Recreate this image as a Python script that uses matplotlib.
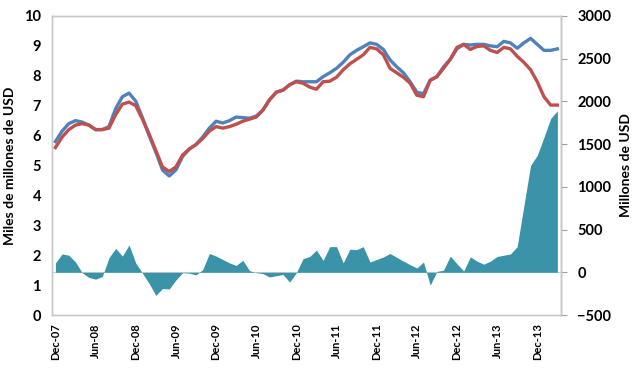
import numpy as np
import matplotlib
matplotlib.use("Agg")
import matplotlib.pyplot as plt

plt.rcParams['font.family'] = ['Lato', 'DejaVu Sans']

# monthly data, Dec-07 .. Mar-14
months = ['Dec', 'Jan', 'Feb', 'Mar', 'Apr', 'May', 'Jun', 'Jul', 'Aug', 'Sep', 'Oct', 'Nov']
labels = []
for k in range(76):
    m = months[k % 12]
    yr = 7 + (k + 11) // 12
    labels.append('%s-%02d' % (m, yr))

blue = [5.8, 6.15, 6.4, 6.5, 6.45, 6.35, 6.2, 6.2, 6.3, 6.9, 7.3, 7.42, 7.15, 6.6, 6.0, 5.45,
        4.85, 4.65, 4.85, 5.3, 5.55, 5.7, 5.95, 6.25, 6.48, 6.42, 6.5, 6.62, 6.6, 6.58, 6.65, 6.85,
        7.2, 7.45, 7.52, 7.7, 7.82, 7.8, 7.8, 7.8, 7.97, 8.1, 8.25, 8.45, 8.7, 8.85, 8.97, 9.1,
        9.05, 8.88, 8.53, 8.3, 8.1, 7.8, 7.45, 7.4, 7.85, 7.97, 8.3, 8.55, 8.9, 9.05, 9.03, 9.05,
        9.05, 9.0, 8.97, 9.15, 9.1, 8.92, 9.1, 9.25, 9.05, 8.85, 8.85, 8.9]
red = [5.6, 5.95, 6.2, 6.35, 6.4, 6.35, 6.2, 6.2, 6.25, 6.7, 7.05, 7.12, 7.0, 6.55, 6.05, 5.5,
       4.95, 4.8, 4.95, 5.35, 5.55, 5.7, 5.9, 6.15, 6.3, 6.25, 6.3, 6.38, 6.48, 6.55, 6.62, 6.85,
       7.2, 7.45, 7.52, 7.7, 7.8, 7.75, 7.62, 7.55, 7.8, 7.82, 7.95, 8.2, 8.4, 8.55, 8.7, 8.95,
       8.9, 8.7, 8.25, 8.1, 7.95, 7.75, 7.35, 7.3, 7.85, 7.97, 8.25, 8.55, 8.95, 9.05, 8.88, 8.98,
       9.0, 8.85, 8.78, 8.95, 8.9, 8.65, 8.45, 8.2, 7.8, 7.3, 7.02, 7.02]
area = [110, 215, 200, 120, -5, -60, -80, -50, 170, 280, 190, 320, 110, -10, -130, -270,
        -190, -195, -90, -5, -10, -30, 30, 220, 190, 150, 110, 80, 140, 20, -5, -15,
        -55, -40, -25, -115, -5, 160, 185, 260, 140, 300, 300, 110, 270, 265, 300, 120,
        150, 180, 220, 175, 130, 90, 50, 120, -150, 10, 25, 190, 100, 15, 180, 130,
        95, 130, 185, 200, 215, 300, 780, 1250, 1370, 1580, 1800, 1890]

x = np.arange(len(labels))

fig = plt.figure(figsize=(6.43, 3.80), dpi=100)
ax = fig.add_axes([0.081, 0.171, 0.791, 0.787])
ax2 = ax.twinx()

ax2.fill_between(x, 0, area, color='#3A93A8', lw=0)
ax2.axhline(0, color='#D0D0D0', lw=0.8, zorder=0)

ax.plot(x, blue, color='#4F81BD', lw=2.4, solid_joinstyle='round')
ax.plot(x, red, color='#C0504D', lw=2.4, solid_joinstyle='round')
ax.set_zorder(ax2.get_zorder() + 1)
ax.patch.set_visible(False)

ax.set_xlim(-0.5, 75.5)
ax.set_ylim(0, 10)
ax.set_yticks(range(0, 11))
ax2.set_ylim(-500, 3000)
ax2.set_yticks(range(-500, 3001, 500))

ax.set_xticks(x[::6])
ax.set_xticklabels(labels[::6], rotation=90, fontsize=8, fontweight='bold')
ax.tick_params(axis='x', length=0, pad=6)
ax.tick_params(axis='y', length=0, labelsize=10.5, pad=8)
for t in ax.get_yticklabels():
    t.set_fontweight('bold')
ax2.tick_params(axis='y', length=4, color='#A0A0A0', labelsize=10.5, pad=8)
for t in ax2.get_yticklabels():
    t.set_fontweight('bold')

for a in (ax, ax2):
    for s in a.spines.values():
        s.set_color('#C8C8C8')
        s.set_linewidth(1.0)
ax2.spines['right'].set_color('#A0A0A0')

ax.set_ylabel('Miles de millones de USD', fontsize=10, fontweight='bold', labelpad=6)
ax2.set_ylabel('Millones de USD', fontsize=10, fontweight='bold', labelpad=6)

fig.savefig('out.png', dpi=100)
